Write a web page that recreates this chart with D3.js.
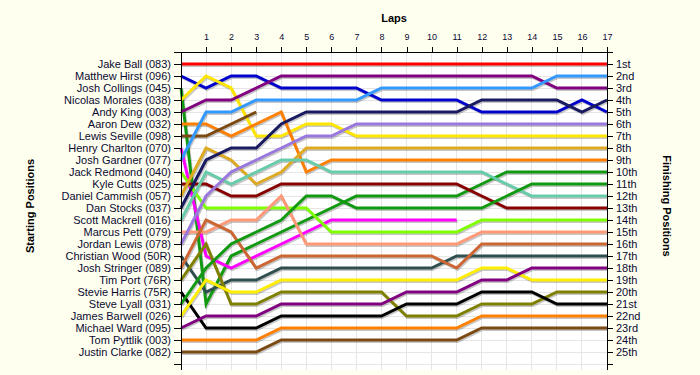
<!DOCTYPE html>
<html>
<head>
<meta charset="utf-8">
<script src="https://cdn.jsdelivr.net/npm/d3@7"></script>
<style>
  body { margin: 0; background: #fffff0; }
  svg { display: block; font-family: "Liberation Sans", Arial, sans-serif; }
  .axis path, .axis line { stroke: #000; shape-rendering: crispEdges; }
  .axis text { fill: #0a0a30; font-size: 11px; }
  .topaxis text { font-size: 9px; }
  .grid line { stroke: #e6e6e6; shape-rendering: crispEdges; }
  .title { font-weight: bold; font-size: 11px; fill: #000; }
</style>
</head>
<body>
<div id="lapchart"></div>
<script>

// starting grid, top to bottom
var startNames = [
  "Jake Ball (083)", "Matthew Hirst (096)", "Josh Collings (045)", "Nicolas Morales (038)",
  "Andy King (003)", "Aaron Dew (032)", "Lewis Seville (098)", "Henry Charlton (070)",
  "Josh Gardner (077)", "Jack Redmond (040)", "Kyle Cutts (025)", "Daniel Cammish (057)",
  "Dan Stocks (037)", "Scott Mackrell (016)", "Marcus Pett (079)", "Jordan Lewis (078)",
  "Christian Wood (50R)", "Josh Stringer (089)", "Tim Port (76R)", "Stevie Harris (75R)",
  "Steve Lyall (031)", "James Barwell (026)", "Michael Ward (095)", "Tom Pyttlik (003)",
  "Justin Clarke (082)"
];

var finishLabels = ["1st","2nd","3rd","4th","5th","6th","7th","8th","9th","10th","11th","12th",
  "13th","14th","15th","16th","17th","18th","19th","20th","21st","22nd","23rd","24th","25th"];

var laps = d3.range(0, 18);

// position of each driver at lap 0..17 (shorter rows = retired)
var positions = [
  [1,1,1,1,1,1,1,1,1,1,1,1,1,1,1,1,1,1],
  [2,3,2,2,3,3,3,3,4,4,4,4,5,5,5,5,4,5],
  [3,21,17,16,15,14,13,12,12,12,12,12,11,10,10,10,10,10],
  [4,2,3,7,7,6,6,7,7,7,7,7,7,7,7,7,7,7],
  [5,4,4,3,2,2,2,2,2,2,2,2,2,2,2,3,3,3],
  [6,6,7,6,5,10,9,9,9,9,9,9,9,9,9,9,9,9],
  [7,7,6,5],
  [8,17,18,17,16,15,14,14,14,14,14,14],
  [9,5,5,4,4,4,4,4,3,3,3,3,3,3,3,2,2,2],
  [10,13,13,13,13,13,15,15,15,15,15,15,14,14,14,14,14,14],
  [11,11,12,12,11,11,11,11,11,11,11,11,12,13,13,13,13,13],
  [12,8,9,11,10,8,8,8,8,8,8,8,8,8,8,8,8,8],
  [13,9,8,8,6,5,5,5,5,5,5,5,4,4,4,4,5,4],
  [14,10,11,10,9,9,10,10,10,10,10,10,10,11,12,12,12,12],
  [15,15,14,14,12,16,16,16,16,16,16,16,15,15,15,15,15,15],
  [16,12,10,9,8,7,7,6,6,6,6,6,6,6,6,6,6,6],
  [17,20,19,19,18,18,18,18,18,18,18,17,17,17,17,17,17,17],
  [18,14,15,18,17,17,17,17,17,17,17,18,16,16,16,16,16,16],
  [19,16,21,21,20,20,20,20,20,22,22,22,21,21,21,20,20,20],
  [20,23,23,23,22,22,22,22,22,21,21,21,20,20,20,21,21,21],
  [21,18,16,15,14,12,12,13,13,13,13,13,13,12,11,11,11,11],
  [22,19,20,20,19,19,19,19,19,19,19,19,18,18,19,19,19,19],
  [23,22,22,22,21,21,21,21,21,20,20,20,19,19,18,18,18,18],
  [24,24,24,24,23,23,23,23,23,23,23,23,22,22,22,22,22,22],
  [25,25,25,25,24,24,24,24,24,24,24,24,23,23,23,23,23,23]
];

var colours = [
  "#ff0000", "#0000cc", "#119911", "#ffe600", "#800080", "#ff8000", "#7b4a12", "#ff00ff",
  "#3399ff", "#80ff00", "#880000", "#ddaa22", "#1a1a60", "#66ccaa", "#ff9977", "#9977dd",
  "#2f4f4f", "#cc6633", "#808000", "#000000", "#119911", "#ffee00", "#800080", "#ff8000",
  "#7b4a12"
];

var params = {
  width: 700, height: 375,
  left: 181, right: 607, top: 52, bottom: 370
};

function plot_laps() {

    var x = d3.scaleLinear().domain([0, 17]).range([params.left, params.right]);
    var y = d3.scaleLinear().domain([0, 26]).range([params.top, params.top + 12 * 26]);

    var svg = d3.select("#lapchart")
                .append("svg")
                .attr("width", params.width)
                .attr("height", params.height);

    svg.append("rect")
        .attr("width", params.width).attr("height", params.height)
        .attr("fill", "#fffff0");

    svg.append("rect")
        .attr("x", params.left).attr("y", params.top)
        .attr("width", params.right - params.left)
        .attr("height", params.bottom - params.top)
        .attr("fill", "#ffffff");

    // grid
    var grid = svg.append("g").attr("class", "grid");
    grid.selectAll(".v").data(laps.slice(1)).enter()
        .append("line")
            .attr("x1", d => x(d)).attr("x2", d => x(d))
            .attr("y1", params.top).attr("y2", params.bottom);
    grid.selectAll(".h").data(d3.range(1, 27)).enter()
        .append("line")
            .attr("x1", params.left).attr("x2", params.right)
            .attr("y1", d => y(d)).attr("y2", d => y(d));

    // lines
    var line = d3.line()
        .x((d, i) => x(i))
        .y(d => y(d));

    svg.append("g")
        .selectAll("path")
        .data(positions).enter()
        .append("path")
            .attr("d", line)
            .attr("transform", "translate(1,1.5)")
            .attr("fill", "none")
            .attr("stroke", "rgba(0,0,0,0.22)")
            .attr("stroke-width", 3);

    svg.append("g")
        .selectAll("path")
        .data(positions).enter()
        .append("path")
            .attr("d", line)
            .attr("fill", "none")
            .attr("stroke", (d, i) => colours[i])
            .attr("stroke-width", 3)
            .attr("stroke-linejoin", "miter");

    // top axis (laps)
    var top_axis = d3.axisTop(x).tickValues(laps.slice(1)).tickSize(5).tickSizeOuter(0);
    svg.append("g")
        .attr("class", "axis topaxis")
        .attr("transform", "translate(0," + params.top + ")")
        .call(top_axis)
        .selectAll(".tick text").attr("dy", "-0.4em");

    // left axis (start)
    var left_axis = d3.axisLeft(y)
        .tickValues(d3.range(0, 27))
        .tickFormat(d => startNames[d - 1] || "")
        .tickSize(7).tickSizeOuter(0);
    svg.append("g")
        .attr("class", "axis")
        .attr("transform", "translate(" + params.left + ",0)")
        .call(left_axis)
        .select(".domain").attr("d", "M0," + params.top + "V" + params.bottom);

    // right axis (finish)
    var right_axis = d3.axisRight(y)
        .tickValues(d3.range(0, 27))
        .tickFormat(d => finishLabels[d - 1] || "")
        .tickSize(6).tickSizeOuter(0);
    svg.append("g")
        .attr("class", "axis")
        .attr("transform", "translate(" + params.right + ",0)")
        .call(right_axis)
        .select(".domain").attr("d", "M0," + params.top + "V" + params.bottom);

    // titles
    svg.append("text")
        .attr("class", "title")
        .attr("x", (params.left + params.right) / 2)
        .attr("y", 22)
        .attr("text-anchor", "middle")
        .text("Laps");

    svg.append("text")
        .attr("class", "title")
        .attr("transform", "translate(34,206) rotate(-90)")
        .attr("text-anchor", "middle")
        .text("Starting Positions");

    svg.append("text")
        .attr("class", "title")
        .attr("transform", "translate(663,206) rotate(90)")
        .attr("text-anchor", "middle")
        .text("Finishing Positions");
}

plot_laps();

</script>
</body>
</html>
